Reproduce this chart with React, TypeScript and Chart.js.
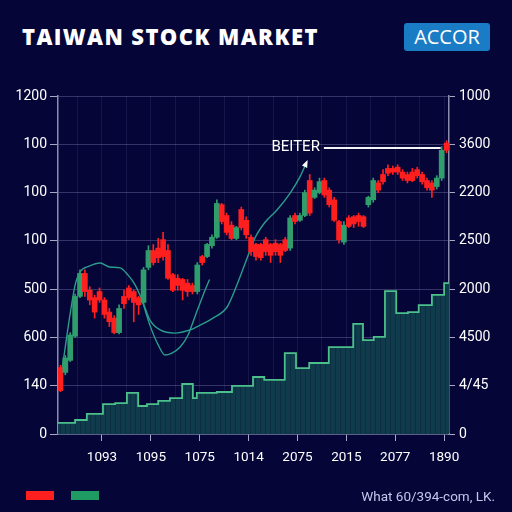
import React, { useEffect, useRef } from "react";
import { Chart, registerables } from "chart.js";

Chart.register(...registerables);

// ---------- data ----------
const xTickValues = [9.5, 19.5, 29.5, 39.5, 49.5, 59.5, 69.5, 79.5];
const xTickLabels = ["1093", "1095", "1075", "1014", "2075", "2015", "2077", "1890"];
const xGridValues = [4.5, 9.5, 14.5, 19.5, 24.5, 29.5, 34.5, 39.5, 44.5, 49.5, 54.5, 59.5, 64.5, 69.5, 74.5, 79.5];

const leftLabels = ["0", "140", "600", "500", "100", "100", "100", "1200"];
const rightLabels = ["0", "4/45", "4500", "2000", "2500", "2200", "3600", "1000"];

const candleX = [
  1, 2, 3, 4, 5, 6, 7, 8, 9, 10, 11, 12, 13, 14, 15, 16, 17, 18, 19, 20,
  21, 22, 23, 24, 25, 26, 27, 28, 29, 30, 31, 32, 33, 34, 35, 36, 37, 38, 39, 40,
  41, 42, 43, 44, 45, 46, 47, 48, 49, 50, 51, 52, 53, 54, 55, 56, 57, 58, 59, 60,
  61, 62, 63, 64, 65, 66, 67, 68, 69, 70, 71, 72, 73, 74, 75, 76, 77, 78, 79, 80,
];
const opens = [
  275, 255, 305, 405, 570, 665, 595, 565, 590, 555, 505, 480, 420, 570, 605, 590, 565, 545, 690, 760,
  770, 805, 760, 660, 645, 640, 625, 615, 590, 735, 735, 780, 815, 950, 905, 865, 810, 930, 885, 815,
  785, 785, 805, 785, 790, 785, 805, 770, 905, 885, 905, 1050, 980, 1000, 1050, 1010, 970, 880, 795, 895,
  900, 905, 900, 950, 970, 1040, 1075, 1100, 1100, 1105, 1085, 1075, 1085, 1095, 1075, 1050, 1040, 1025, 1060, 1205,
];
const closes = [
  180, 315, 410, 570, 665, 590, 555, 505, 555, 495, 465, 420, 520, 540, 565, 545, 535, 680, 760, 710,
  730, 735, 645, 595, 615, 595, 590, 590, 700, 710, 785, 815, 955, 880, 835, 810, 855, 855, 825, 755,
  735, 730, 755, 740, 755, 740, 760, 895, 880, 905, 1000, 915, 1010, 1045, 990, 950, 885, 805, 865, 860,
  870, 880, 860, 980, 1050, 1010, 1045, 1080, 1085, 1085, 1060, 1050, 1050, 1070, 1045, 1020, 1010, 1060, 1175, 1175,
];
const highs = [
  285, 325, 420, 580, 680, 680, 610, 575, 605, 565, 520, 490, 535, 595, 615, 595, 570, 690, 780, 785,
  810, 835, 785, 665, 660, 645, 640, 625, 710, 740, 790, 825, 970, 955, 915, 880, 860, 940, 900, 825,
  790, 790, 815, 790, 805, 790, 815, 905, 915, 915, 1010, 1075, 1020, 1060, 1060, 1020, 980, 885, 880, 905,
  905, 915, 905, 985, 1060, 1050, 1095, 1115, 1110, 1115, 1095, 1085, 1100, 1105, 1085, 1060, 1050, 1070, 1190, 1215,
];
const lows = [
  175, 245, 300, 400, 565, 570, 535, 480, 545, 480, 445, 415, 415, 520, 555, 465, 495, 540, 680, 700,
  710, 720, 640, 590, 595, 555, 570, 580, 580, 700, 730, 770, 810, 870, 825, 805, 805, 845, 810, 740,
  720, 720, 740, 710, 740, 710, 755, 760, 870, 880, 900, 905, 975, 995, 980, 940, 880, 790, 785, 855,
  855, 860, 855, 940, 960, 1000, 1035, 1070, 1075, 1075, 1050, 1040, 1045, 1060, 1035, 1010, 980, 1015, 1050, 1165,
];

const volumeX = [0.5, 4, 6.4, 9.7, 12.2, 14.6, 16.9, 18.7, 21, 23.4, 25.9, 28.1, 28.9, 33, 36.1, 40.4, 42.7, 46.9, 49.2, 51.9, 55.9, 60.9, 62.9, 65.1, 67.4, 69.7, 72.1, 74.3, 77, 79.5, 80.5];
const volumeValues = [46, 58, 83, 124, 128, 170, 116, 124, 137, 149, 207, 149, 170, 174, 199, 236, 224, 335, 273, 294, 360, 456, 389, 402, 592, 501, 505, 534, 576, 625, 625];

const maSlowX = [1, 1.9, 2.95, 4, 5, 7, 9.1, 11.1, 13.2, 14.8, 16.3, 17.7, 19.3, 21.4, 24.4, 27.5, 29.6, 32.2, 35.1, 37.1, 39.2, 40.8, 42.9, 45.3, 48, 50, 51.4];
const maSlowValues = [224, 348, 493, 617, 671, 696, 708, 692, 688, 659, 617, 555, 472, 431, 418, 431, 451, 480, 526, 617, 729, 812, 878, 928, 998, 1065, 1127];

const maFastX = [17.7, 19.3, 21, 22.4, 23.8, 25.5, 27.1, 28.5, 30.2, 31.5];
const maFastValues = [555, 451, 369, 327, 335, 360, 410, 485, 576, 640];

const calloutText = "BEITER";
const calloutLevel = 1185;
const calloutFrom = 54.9;
const calloutTo = 78.8;

const titleText = "TAIWAN STOCK MARKET";
const badgeText = "ACCOR";
const footerText = "What 60/394-com, LK.";

// ---------- styles ----------
const RED = "#ff1f1f";
const GREEN = "#2f9e6c";
const BG = "#050538";

export default function App() {
  const canvasRef = useRef<HTMLCanvasElement | null>(null);

  useEffect(() => {
    const canvas = canvasRef.current;
    if (!canvas) return;

    const pc = document.createElement("canvas");
    pc.width = 5;
    pc.height = 10;
    const pctx = pc.getContext("2d")!;
    pctx.fillStyle = "#0f3b4c";
    pctx.fillRect(0, 0, 5, 10);
    pctx.fillStyle = "#0b2e40";
    pctx.fillRect(0, 0, 1, 10);
    const pattern = canvas.getContext("2d")!.createPattern(pc, "repeat");

    const candleColors = candleX.map((_, i) => (closes[i] >= opens[i] ? GREEN : RED));
    const bodies = candleX.map((x, i) => ({ x, y: [opens[i], closes[i]] }));
    const wicks = candleX.map((x, i) => ({ x, y: [lows[i], highs[i]] }));
    const volume = volumeX.map((x, i) => ({ x, y: volumeValues[i] }));
    const maSlow = maSlowX.map((x, i) => ({ x, y: maSlowValues[i] }));
    const maFast = maFastX.map((x, i) => ({ x, y: maFastValues[i] }));

    const calloutPlugin = {
      id: "callout",
      afterDatasetsDraw(chart: any) {
        const { ctx, scales } = chart;
        const xs = scales.x;
        const ys = scales.y;
        const yPix = ys.getPixelForValue(calloutLevel);
        const x0 = xs.getPixelForValue(calloutFrom);
        const x1 = xs.getPixelForValue(calloutTo);
        ctx.save();
        ctx.strokeStyle = "#f4f4f4";
        ctx.lineWidth = 2;
        ctx.beginPath();
        ctx.moveTo(x0, yPix);
        ctx.lineTo(x1, yPix);
        ctx.stroke();
        ctx.font = "15px Roboto";
        ctx.fillStyle = "#ffffff";
        ctx.textAlign = "right";
        ctx.textBaseline = "middle";
        ctx.fillText(calloutText, x0 - 4, yPix - 1);

        const meta = chart.getDatasetMeta(2);
        const pts = meta.data;
        if (pts.length > 1) {
          const p = pts[pts.length - 1];
          const q = pts[pts.length - 2];
          const a = Math.atan2(p.y - q.y, p.x - q.x);
          const s = 6;
          ctx.fillStyle = "#ffffff";
          ctx.beginPath();
          ctx.moveTo(p.x + Math.cos(a) * 2, p.y + Math.sin(a) * 2);
          ctx.lineTo(p.x - Math.cos(a - 0.5) * s, p.y - Math.sin(a - 0.5) * s);
          ctx.lineTo(p.x - Math.cos(a + 0.5) * s, p.y - Math.sin(a + 0.5) * s);
          ctx.closePath();
          ctx.fill();
        }
        ctx.restore();
      },
    };

    const tickFont = { family: "Roboto", size: 14 };

    const chart = new Chart(canvas, {
      type: "bar",
      data: {
        datasets: [
          {
            type: "bar",
            data: bodies as any,
            backgroundColor: candleColors,
            barThickness: 5,
            grouped: false,
            order: 0,
          } as any,
          {
            type: "bar",
            data: wicks as any,
            backgroundColor: candleColors,
            barThickness: 1,
            grouped: false,
            order: 1,
          } as any,
          {
            type: "line",
            data: maSlow as any,
            borderColor: "#2a9d8c",
            borderWidth: 1.4,
            pointRadius: 0,
            cubicInterpolationMode: "monotone",
            order: 2,
          } as any,
          {
            type: "line",
            data: maFast as any,
            borderColor: "#2a9d8c",
            borderWidth: 1.4,
            pointRadius: 0,
            cubicInterpolationMode: "monotone",
            order: 2,
          } as any,
          {
            type: "line",
            data: volume as any,
            stepped: "before",
            fill: "origin",
            backgroundColor: pattern || "#0f3b4c",
            borderColor: "#4cc08a",
            borderWidth: 1.8,
            pointRadius: 0,
            order: 3,
          } as any,
        ],
      },
      options: {
        responsive: false,
        animation: false,
        events: [],
        layout: { padding: { top: 96, left: 0, right: 0, bottom: 0 } },
        plugins: { legend: { display: false }, tooltip: { enabled: false } },
        scales: {
          x: {
            type: "linear",
            min: 0.5,
            max: 80.5,
            offset: false,
            afterFit: (s: any) => {
              s.height = 78;
            },
            afterBuildTicks: (s: any) => {
              s.ticks = xGridValues.map((v) => ({ value: v }));
            },
            grid: {
              offset: false,
              color: "rgba(110,110,175,0.16)",
              tickLength: 7,
              tickColor: (c: any) =>
                xTickValues.some((v) => Math.abs(v - c.tick?.value) < 0.01) ? "#a8a8c4" : "rgba(0,0,0,0)",
            },
            border: { color: "#8c8cae", width: 1.5 },
            ticks: {
              autoSkip: false,
              maxRotation: 0,
              padding: 9,
              color: "#ffffff",
              font: { family: "Roboto", size: 13.5 },
              callback: (v: any) => {
                const k = xTickValues.findIndex((t) => Math.abs(t - v) < 0.01);
                return k >= 0 ? xTickLabels[k] : "";
              },
            },
          } as any,
          y: {
            position: "left",
            min: 0,
            max: 1400,
            afterFit: (s: any) => {
              s.width = 58;
            },
            grid: { color: "rgba(135,135,195,0.36)", tickLength: 8, tickColor: "#a8a8c4" },
            border: { color: "#8c8cae", width: 1.5 },
            ticks: {
              stepSize: 200,
              padding: 3,
              color: "#ffffff",
              font: tickFont,
              callback: (v: any) => leftLabels[Math.round(Number(v) / 200)],
            },
          } as any,
          y2: {
            position: "right",
            min: 0,
            max: 1400,
            afterFit: (s: any) => {
              s.width = 63;
            },
            grid: { drawOnChartArea: false, tickLength: 6, tickColor: "#a8a8c4" },
            border: { color: "#8c8cae", width: 1.5 },
            ticks: {
              stepSize: 200,
              padding: 4,
              color: "#ffffff",
              font: tickFont,
              callback: (v: any) => rightLabels[Math.round(Number(v) / 200)],
            },
          } as any,
        },
      },
      plugins: [calloutPlugin],
    });

    return () => chart.destroy();
  }, []);

  return (
    <div
      style={{
        position: "absolute",
        left: 0,
        top: 0,
        width: 512,
        height: 512,
        background: BG,
        overflow: "hidden",
        fontFamily: "Roboto, 'Noto Sans', sans-serif",
      }}
    >
      <div
        style={{
          position: "absolute",
          left: 22,
          top: 21,
          fontFamily: "'Open Sans', sans-serif",
          fontWeight: 800,
          fontSize: 22,
          letterSpacing: "1.4px",
          lineHeight: "30px",
          color: "#ffffff",
          whiteSpace: "nowrap",
        }}
      >
        {titleText}
      </div>
      <div
        style={{
          position: "absolute",
          left: 404,
          top: 23,
          width: 86,
          height: 28,
          background: "#1b7cc6",
          borderRadius: 3,
          color: "#ffffff",
          fontFamily: "'Open Sans', sans-serif",
          fontSize: 20,
          lineHeight: "28px",
          textAlign: "center",
        }}
      >
        {badgeText}
      </div>
      <canvas
        ref={canvasRef}
        width={512}
        height={512}
        style={{ position: "absolute", left: 0, top: 0, width: 512, height: 512 }}
      />
      <div style={{ position: "absolute", left: 26, top: 491, width: 28, height: 9, background: RED }} />
      <div style={{ position: "absolute", left: 71, top: 491, width: 28, height: 9, background: "#1f9a62" }} />
      <div
        style={{
          position: "absolute",
          right: 17,
          top: 487,
          fontSize: 13.5,
          lineHeight: "18px",
          color: "#c4c6ea",
          whiteSpace: "nowrap",
        }}
      >
        {footerText}
      </div>
    </div>
  );
}
